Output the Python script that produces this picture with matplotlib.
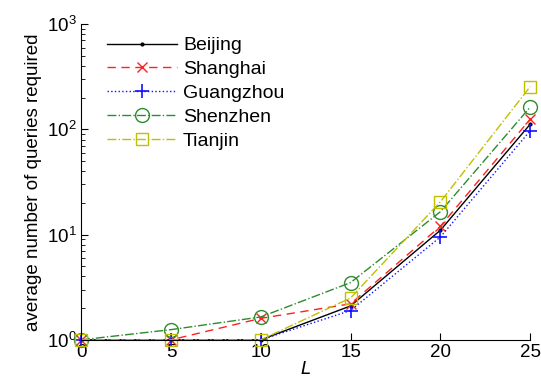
import numpy as np
import matplotlib
matplotlib.use("Agg")
import matplotlib.pyplot as plt

plt.rcParams.update({"font.family": ["Liberation Sans", "DejaVu Sans"],
                     "font.size": 12, "xtick.direction": "in",
                     "ytick.direction": "in"})

L = [0, 5, 10, 15, 20, 25]
beijing = [1.0, 1.0, 1.0, 2.1, 11.0, 112]
shanghai = [1.0, 1.0, 1.6, 2.2, 12.0, 125]
guangzhou = [1.0, 1.0, 1.0, 1.9, 9.5, 97]
shenzhen = [1.0, 1.25, 1.65, 3.5, 16.5, 163]
tianjin = [1.0, 1.0, 1.0, 2.5, 20.5, 255]

fig = plt.figure(figsize=(5.41, 3.84), dpi=100)
ax = fig.add_axes([0.15, 0.115, 0.83, 0.822])

kw = dict(lw=1.0, clip_on=False)
ax.plot(L, beijing, "-", color="black", marker=".", ms=4, label="Beijing", **kw)
ax.plot(L, shanghai, "--", color="#ff2020", marker="x", ms=7,
        dashes=(6, 4), label="Shanghai", **kw)
ax.plot(L, guangzhou, ":", color="#1010ff", marker="+", ms=10, mew=1.2,
        label="Guangzhou", **kw)
ax.plot(L, shenzhen, "-.", color="#2e8b2e", marker="o", ms=10, mfc="none",
        label="Shenzhen", **kw)
ax.plot(L, tianjin, "-.", color="#c0c000", marker="s", ms=8, mfc="none",
        label="Tianjin", **kw)

ax.set_yscale("log")
ax.set_ylim(1, 1000)
ax.set_xlim(0, 25)
ax.set_xticks(L)
ax.spines["top"].set_visible(False)
ax.spines["right"].set_visible(False)
ax.tick_params(which="major", length=5, labelsize=13.5, pad=3)
ax.tick_params(which="minor", length=3)
ax.set_xlabel("$L$", fontsize=13, labelpad=0)
ax.set_ylabel("average number of queries required", fontsize=13.5, labelpad=4)
ax.legend(loc="upper left", frameon=False, fontsize=14, handlelength=3.6,
          handletextpad=0.3, borderaxespad=0.25, labelspacing=0.32,
          bbox_to_anchor=(0.03, 1.0))

fig.savefig("out.png", dpi=100)
